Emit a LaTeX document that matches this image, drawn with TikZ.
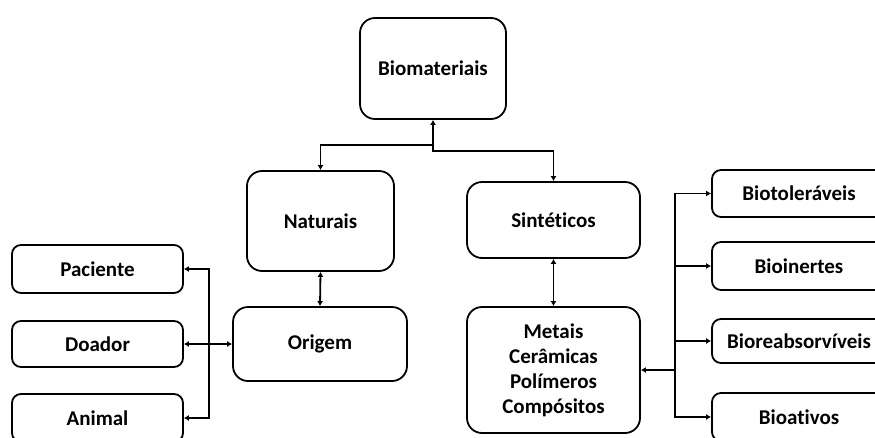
\documentclass[tikz,border=0pt]{standalone}
\usepackage{fontspec}
\setmainfont[Ligatures={NoCommon}]{Carlito}
\usetikzlibrary{arrows.meta}
\begin{document}
\begin{tikzpicture}[x=1pt,y=-1pt,
  box/.style={draw, line width=1.8pt, align=center, inner sep=0pt,
    font=\fontsize{21}{25}\selectfont\bfseries},
  bigbox/.style={box, rounded corners=15pt},
  smallbox/.style={box, rounded corners=9pt},
  conn/.style={line width=1.8pt, >={Latex[length=5pt,width=6pt]}}]
\useasboundingbox (0,0) rectangle (875,437);
\clip (0,0) rectangle (875,437);
\fill[white] (0,0) rectangle (875,437);
% main boxes
\node[bigbox, minimum width=146pt, minimum height=101pt] (bio) at (433,68.5) {Biomateriais};
\node[bigbox, minimum width=147pt, minimum height=100pt] (nat) at (320.5,221) {Naturais};
\node[bigbox, minimum width=173pt, minimum height=76pt] (sin) at (553.5,220) {Sintéticos};
\node[bigbox, minimum width=174pt, minimum height=74pt] (ori) at (320,344) {Origem};
\node[bigbox, minimum width=173pt, minimum height=126pt] (met) at (553.5,370) {Metais\\Cerâmicas\\Polímeros\\Compósitos};
% left boxes
\node[smallbox, minimum width=171pt, minimum height=48pt] (pac) at (97.5,269) {Paciente};
\node[smallbox, minimum width=171pt, minimum height=46pt] (doa) at (97.5,344) {Doador};
\node[smallbox, minimum width=171pt, minimum height=48pt] (ani) at (97.5,418) {Animal};
% right boxes
\node[smallbox, minimum width=174pt, minimum height=47pt] (btl) at (799,193.5) {Biotoleráveis};
\node[smallbox, minimum width=174pt, minimum height=48pt] (bin) at (799,266) {Bioinertes};
\node[smallbox, minimum width=174pt, minimum height=44pt] (bre) at (799,341) {Bioreabsorvíveis};
\node[smallbox, minimum width=174pt, minimum height=48pt] (bat) at (799,417) {Bioativos};
% junctions
\coordinate (jn) at (433,145);
\coordinate (js) at (433,151);
\coordinate (jl) at (209,344);
\coordinate (jr) at (675,370);
% connectors
\draw[conn, <->] (bio.south) -- (js) -| (sin.north);
\draw[conn, ->] (jn) -| (nat.north);
\draw[conn, <->] (nat.south) -- (ori.north);
\draw[conn, <->] (sin.south) -- (met.north);
\draw[conn, <->] (pac.east) -| (jl) |- (ani.east);
\draw[conn, <->] (doa.east) -- (ori.west);
\draw[conn, ->] (jr) -- (met.east);
\draw[conn, ->] (jr) |- (btl.west);
\draw[conn, ->] (jr) |- (bin.west);
\draw[conn, ->] (jr) |- (bre.west);
\draw[conn, ->] (jr) |- (bat.west);
\end{tikzpicture}
\end{document}
